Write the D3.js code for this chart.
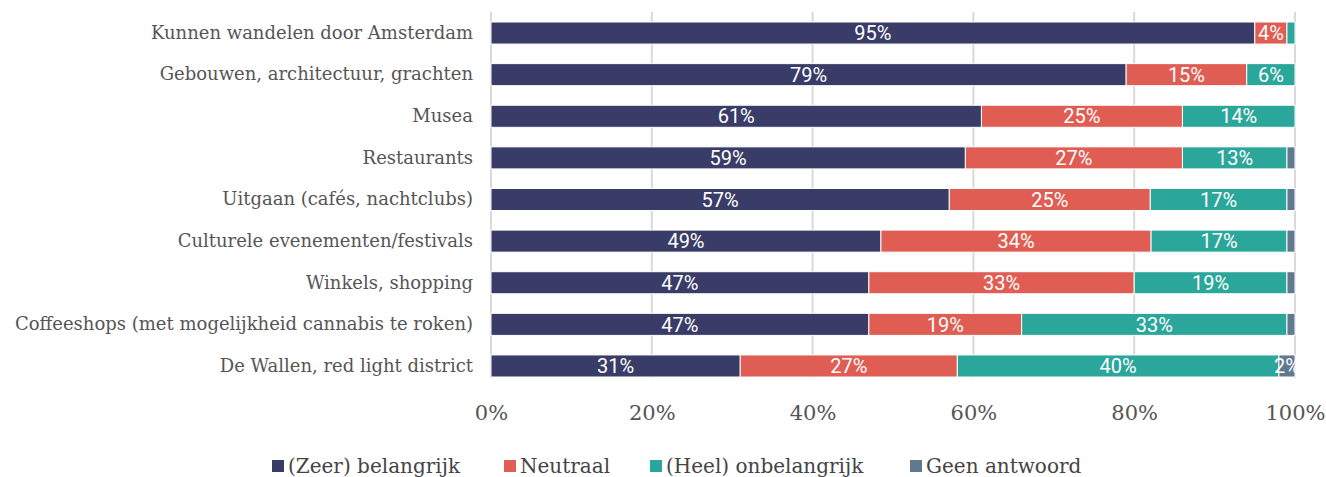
<!DOCTYPE html>
<html>
<head>
<meta charset="utf-8">
<script src="https://cdn.jsdelivr.net/npm/d3@7"></script>
<style>
  body { margin: 0; background: #fff; }
  #chart { width: 1326px; height: 477px; }
</style>
</head>
<body>
<div id="chart"></div>
<script>
// categories, top to bottom
var categories = [
    "Kunnen wandelen door Amsterdam",
    "Gebouwen, architectuur, grachten",
    "Musea",
    "Restaurants",
    "Uitgaan (cafés, nachtclubs)",
    "Culturele evenementen/festivals",
    "Winkels, shopping",
    "Coffeeshops (met mogelijkheid cannabis te roken)",
    "De Wallen, red light district"
];

var seriesNames = ["(Zeer) belangrijk", "Neutraal", "(Heel) onbelangrijk", "Geen antwoord"];

// percentages per series, same order as categories
var zeerBelangrijk = [95, 79, 61, 59, 57, 48.5, 47, 47, 31];
var neutraal       = [4, 15, 25, 27, 25, 33.6, 33, 19, 27];
var onbelangrijk   = [1, 6, 14, 13, 17, 16.9, 19, 33, 40];
var geenAntwoord   = [0, 0, 0, 1, 1, 1, 1, 1, 2];

var ticks = [0, 20, 40, 60, 80, 100];

var colors = ["#393c67", "#df5d52", "#2ba69a", "#61798f"];

var data = categories.map(function(c, i) {
    return {
        cat: c,
        "(Zeer) belangrijk": zeerBelangrijk[i],
        "Neutraal": neutraal[i],
        "(Heel) onbelangrijk": onbelangrijk[i],
        "Geen antwoord": geenAntwoord[i]
    };
});

var margin = {top: 12, right: 31, bottom: 99, left: 491},
    width = 1326 - margin.left - margin.right,
    height = 477 - margin.top - margin.bottom;

var svg = d3.select("#chart").append("svg")
    .attr("width", 1326)
    .attr("height", 477);

var g = svg.append("g")
    .attr("transform", "translate(" + margin.left + "," + margin.top + ")");

var x = d3.scaleLinear().domain([0, 100]).range([0, width]);
var y = d3.scaleBand()
    .domain(categories)
    .range([10, 365])
    .paddingInner(0.47)
    .paddingOuter(0);
var color = d3.scaleOrdinal().domain(seriesNames).range(colors);

// gridlines
g.selectAll(".grid")
    .data(ticks)
    .enter().append("line")
    .attr("class", "grid")
    .attr("x1", function(d) { return x(d); })
    .attr("x2", function(d) { return x(d); })
    .attr("y1", 0)
    .attr("y2", height)
    .attr("stroke", "#d9d9d9")
    .attr("stroke-width", 2);

var layers = d3.stack().keys(seriesNames)(data);

var layer = g.selectAll(".layer")
    .data(layers)
    .enter().append("g")
    .attr("class", "layer")
    .attr("fill", function(d) { return color(d.key); });

layer.selectAll("rect")
    .data(function(d) { return d; })
    .enter().append("rect")
    .attr("x", function(d) { return x(d[0]); })
    .attr("y", function(d) { return y(d.data.cat); })
    .attr("width", function(d) { return Math.max(0, x(d[1]) - x(d[0])); })
    .attr("height", y.bandwidth())
    .attr("stroke", "#fff")
    .attr("stroke-width", 1);

// value labels
layer.selectAll("text")
    .data(function(d) { return d.filter(function(s) { return s[1] - s[0] >= 2; }); })
    .enter().append("text")
    .attr("x", function(d) { return x((d[0] + d[1]) / 2); })
    .attr("y", function(d) { return y(d.data.cat) + y.bandwidth() / 2; })
    .attr("dy", "0.36em")
    .attr("text-anchor", "middle")
    .attr("fill", "#fff")
    .attr("font-family", "Roboto, sans-serif")
    .attr("font-size", "20px")
    .text(function(d) { return Math.round(d[1] - d[0]) + "%"; });

// y axis labels
var yAxis = g.append("g")
    .attr("transform", "translate(-18,0)")
    .call(d3.axisLeft(y).tickSize(0).tickPadding(0));
yAxis.select(".domain").remove();
yAxis.selectAll("text")
    .attr("font-family", "'DejaVu Serif', serif")
    .attr("font-size", "18px")
    .attr("fill", "#555");

// x axis labels
var xAxis = g.append("g")
    .attr("transform", "translate(0," + height + ")")
    .call(d3.axisBottom(x).tickValues(ticks).tickSize(0).tickPadding(27)
        .tickFormat(function(d) { return d + "%"; }));
xAxis.select(".domain").remove();
xAxis.selectAll("text")
    .attr("font-family", "'DejaVu Serif', serif")
    .attr("font-size", "21px")
    .attr("fill", "#555");

// legend
var legendX = [272, 504, 650, 910];
var legend = svg.append("g")
    .selectAll("g")
    .data(seriesNames)
    .enter().append("g")
    .attr("transform", function(d, i) { return "translate(" + legendX[i] + ",466)"; });

legend.append("rect")
    .attr("x", 0)
    .attr("y", -6)
    .attr("width", 12)
    .attr("height", 12)
    .attr("fill", function(d) { return color(d); });

legend.append("text")
    .attr("x", 16)
    .attr("dy", "0.36em")
    .attr("font-family", "'DejaVu Serif', serif")
    .attr("font-size", "20px")
    .attr("fill", "#444")
    .text(function(d) { return d; });
</script>
</body>
</html>
